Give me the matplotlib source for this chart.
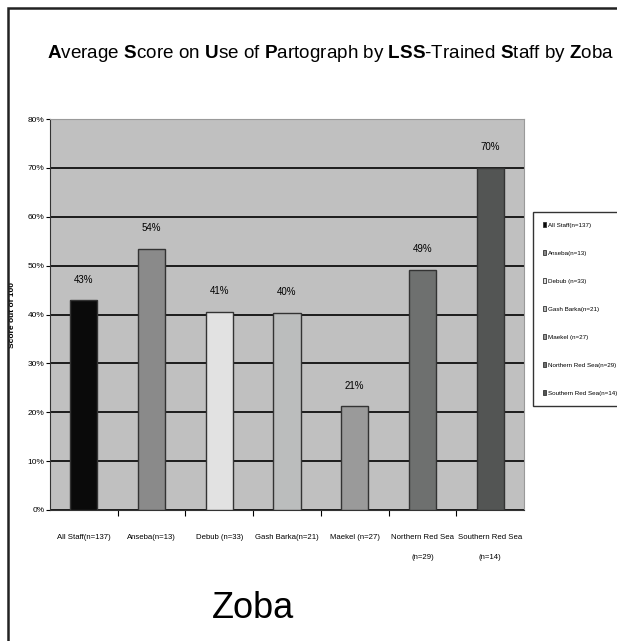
import matplotlib.pyplot as plt
import numpy as np
from matplotlib.patches import Rectangle, Patch

plt.rcParams['font.family'] = ['Liberation Sans', 'DejaVu Sans']
plt.rcParams['mathtext.fontset'] = 'custom'
plt.rcParams['mathtext.rm'] = 'Liberation Sans'
plt.rcParams['mathtext.bf'] = 'Liberation Sans:bold'

# data
zobas = ['All Staff(n=137)', 'Anseba(n=13)', 'Debub (n=33)', 'Gash Barka(n=21)',
         'Maekel (n=27)', 'Northern Red Sea\n(n=29)', 'Southern Red Sea\n(n=14)']
legend_names = ['All Staff(n=137)', 'Anseba(n=13)', 'Debub (n=33)', 'Gash Barka(n=21)',
                'Maekel (n=27)', 'Northern Red Sea(n=29)', 'Southern Red Sea(n=14)']
scores = [42.9, 53.5, 40.5, 40.4, 21.2, 49.1, 70.0]
score_labels = ['43%', '54%', '41%', '40%', '21%', '49%', '70%']
bar_colors = ['#0a0a0a', '#8a8a8a', '#e2e2e2', '#bbbdbd', '#9a9a9a', '#6e706f', '#535554']

fig = plt.figure(figsize=(6.17, 6.41), dpi=100)
ax = fig.add_axes([50/617, 1 - 510/641, 474/617, 391/641])
ax.set_facecolor('#c0c0c0')

x = np.arange(len(zobas))
ax.bar(x, scores, width=0.4, color=bar_colors, edgecolor='#333333', linewidth=1.0, zorder=3)
for xi, s, lab in zip(x, scores, score_labels):
    ax.text(xi, s + 3.2, lab, ha='center', va='bottom', fontsize=7)

ax.set_xlim(-0.5, len(zobas) - 0.5)
ax.set_ylim(0, 80)
ax.set_yticks(np.arange(0, 81, 10))
ax.set_yticklabels([f'{v}%' for v in range(0, 81, 10)], fontsize=6)
ax.yaxis.grid(True, color='black', linewidth=1.2, zorder=1)
ax.set_axisbelow(True)

ax.set_xticks(x)
ax.set_xticklabels(zobas, fontsize=5.6, linespacing=3.6)
ax.set_xticks(np.arange(0.5, len(zobas) - 0.5, 1), minor=True)
ax.tick_params(axis='x', which='major', length=0, pad=17)
ax.tick_params(axis='x', which='minor', length=4, width=0.8, direction='out')
ax.tick_params(axis='y', length=3, width=0.8, pad=1)
for side in ['top', 'right']:
    ax.spines[side].set_color('#9a9a9a')
ax.spines['left'].set_color('#333333')
ax.spines['bottom'].set_color('#333333')

ax.set_ylabel('Score out of 100', fontsize=6, fontweight='bold', labelpad=8)

title = (r'$\mathbf{A}$verage $\mathbf{S}$core on $\mathbf{U}$se of $\mathbf{P}$artograph '
         r'by $\mathbf{LSS}$-Trained $\mathbf{S}$taff by $\mathbf{Z}$oba')
fig.text(47/617, 1 - 54/641, title, fontsize=13.6, ha='left', va='center')
fig.text(253/617, 1 - 608/641, 'Zoba', fontsize=26, ha='center', va='center')

handles = [Patch(facecolor=c, edgecolor='#333333', linewidth=0.6) for c in bar_colors]
leg = fig.legend(handles, legend_names, loc='upper left',
                 bbox_to_anchor=(533/617, 1 - 212/641), fontsize=4.5,
                 handlelength=0.5, handleheight=0.8, handletextpad=0.3,
                 labelspacing=3.6, borderpad=1.6, borderaxespad=0,
                 frameon=True, fancybox=False)
leg.get_frame().set_edgecolor('black')
leg.get_frame().set_linewidth(1.0)

# outer chart border
fig.patches.append(Rectangle((8/617, -0.5), 2.0, 0.5 + 1 - 8/641, transform=fig.transFigure,
                             fill=False, edgecolor='#222222', linewidth=1.8))

fig.savefig('out.png', dpi=100)
